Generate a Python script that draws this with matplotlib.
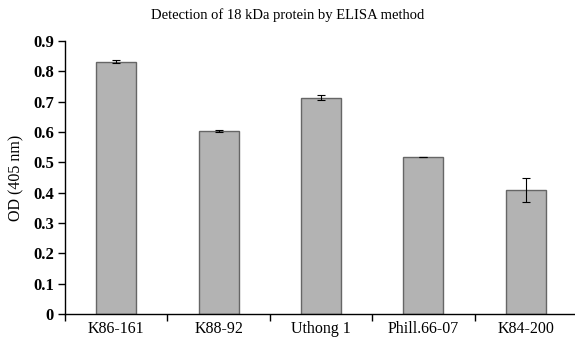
import matplotlib
matplotlib.use("Agg")
import matplotlib.pyplot as plt
import numpy as np

categories = ["K86-161", "K88-92", "Uthong 1", "Phill.66-07", "K84-200"]
od_values = [0.832, 0.602, 0.713, 0.517, 0.409]
od_errors = [0.004, 0.003, 0.009, 0.0, 0.040]
y_ticks = [0, 0.1, 0.2, 0.3, 0.4, 0.5, 0.6, 0.7, 0.8, 0.9]

plt.rcParams["font.family"] = ["Liberation Serif", "DejaVu Serif"]

fig = plt.figure(figsize=(5.75, 3.38), dpi=100)
ax = fig.add_axes([65 / 575, 24 / 338, 512 / 575, 273 / 338])

x = np.arange(len(categories))
ax.bar(x, od_values, width=0.39, color="#b3b3b3", edgecolor="#666666",
       linewidth=1.0, zorder=2)
ax.errorbar(x, od_values, yerr=od_errors, fmt="none", ecolor="black",
            elinewidth=0.8, capsize=3, capthick=0.8, zorder=3)

ax.set_xlim(-0.5, len(categories) - 0.5)
ax.set_ylim(0, 0.9)
ax.set_yticks(y_ticks)
ax.set_yticklabels([f"{v:g}" for v in y_ticks], fontweight="bold", fontsize=12)
ax.set_xticks(x)
ax.set_xticklabels(categories, fontsize=11.5)
ax.set_xticks(np.arange(-0.5, len(categories)), minor=True)
ax.tick_params(axis="x", which="major", length=0, pad=5)
ax.tick_params(axis="x", which="minor", length=5, width=1, direction="out")
ax.tick_params(axis="y", length=5, width=1, direction="out", pad=3)

for side in ["top", "right"]:
    ax.spines[side].set_visible(False)
ax.spines["left"].set_linewidth(1)
ax.spines["bottom"].set_linewidth(1)

ax.set_ylabel("OD (405 nm)", fontsize=11.5, labelpad=6)
fig.text(0.5, 1 - 15 / 338, "Detection of 18 kDa protein by ELISA method",
         ha="center", va="center", fontsize=10.5)

fig.savefig("out.png", dpi=100)
